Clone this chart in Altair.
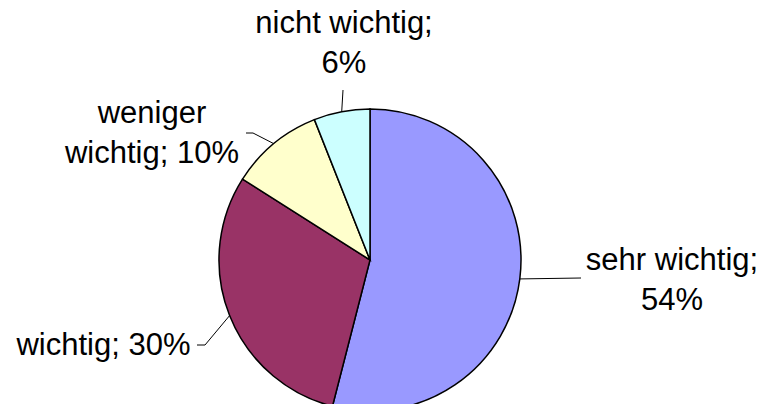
import altair as alt
import pandas as pd
import numpy as np

# ---- data ----
categories = ["sehr wichtig", "wichtig", "weniger wichtig", "nicht wichtig"]
values = [54, 30, 10, 6]
label_texts = ["sehr wichtig;\n54%", "wichtig; 30%", "weniger\nwichtig; 10%", "nicht wichtig;\n6%"]
colors = ["#9999FF", "#993366", "#FFFFCC", "#CCFFFF"]

# ---- layout (pixel positions inside the chart) ----
W, H = 748, 396
CX, CY, R = 362, 252, 151
FONT = "Liberation Sans"
FS = 31
label_xy = [(664, 262), (95.5, 347), (144, 115), (336, 25)]
leader_elbow = [(573, 270), (197, 337), (245, 125), (335, 82)]
leader_end = [(573, 270), (189, 337), (238, 125), (335, 82)]

pie_df = pd.DataFrame({"cat": categories, "val": values, "idx": range(len(values))})

# leader start = pie edge at slice mid-angle (derived from data)
tot = float(sum(values))
cum = np.cumsum(values) - np.array(values) / 2.0
rows = []
for i, c in enumerate(categories):
    a = 2 * np.pi * cum[i] / tot
    sx, sy = CX + R * np.sin(a), CY - R * np.cos(a)
    rows.append({"cat": c, "seq": 0, "x": sx, "y": sy})
    rows.append({"cat": c, "seq": 1, "x": leader_elbow[i][0], "y": leader_elbow[i][1]})
    rows.append({"cat": c, "seq": 2, "x": leader_end[i][0], "y": leader_end[i][1]})
lead_df = pd.DataFrame(rows)

lab_df = pd.DataFrame({
    "cat": categories,
    "txt": label_texts,
    "x": [p[0] for p in label_xy],
    "y": [p[1] for p in label_xy],
})

pie = alt.Chart(pie_df).mark_arc(
    radius=R, stroke="black", strokeWidth=1.5
).encode(
    theta=alt.Theta("val:Q", stack=True),
    order=alt.Order("idx:Q"),
    color=alt.Color("cat:N", scale=alt.Scale(domain=categories, range=colors), legend=None),
    x=alt.value(CX),
    y=alt.value(CY),
)

leaders = alt.Chart(lead_df).mark_line(color="black", strokeWidth=1).encode(
    x=alt.X("x:Q", scale=None, axis=None),
    y=alt.Y("y:Q", scale=None, axis=None),
    detail="cat:N",
    order="seq:Q",
)

labels = alt.Chart(lab_df).mark_text(
    font=FONT, fontSize=FS, color="black", align="center", baseline="alphabetic",
    lineBreak="\n", lineHeight=40,
).encode(
    x=alt.X("x:Q", scale=None, axis=None),
    y=alt.Y("y:Q", scale=None, axis=None),
    text="txt:N",
)

chart = alt.layer(pie, leaders, labels).properties(
    width=W, height=H, autosize=alt.AutoSizeParams(type="none"), padding=0,
    background="white",
).configure_view(stroke=None)

chart.save("out.html", embed_options={"renderer": "svg", "actions": False})
